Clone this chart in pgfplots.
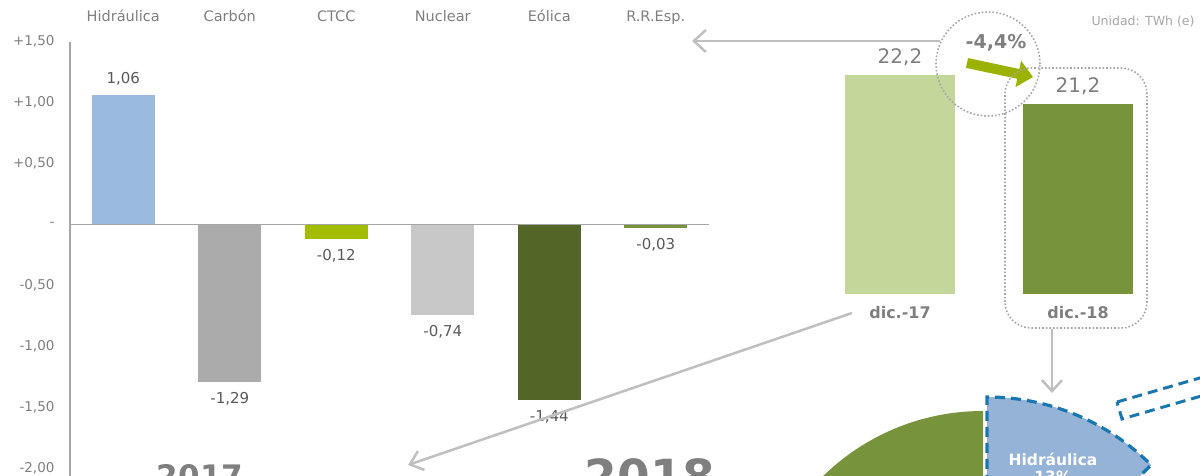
\documentclass[border=0pt]{standalone}
\usepackage{pgfplots}
\pgfplotsset{compat=1.18}
\usepackage{fontspec}
\setmainfont{DejaVu Sans}
\usetikzlibrary{arrows.meta}

\definecolor{txt}{HTML}{7F7F7F}
\definecolor{val}{HTML}{595959}
\definecolor{axgray}{HTML}{A6A6A6}
\definecolor{arrgray}{HTML}{BFBFBF}
\definecolor{hidr}{HTML}{9BBADF}
\definecolor{carbon}{HTML}{ABABAB}
\definecolor{ctcc}{HTML}{A2BD00}
\definecolor{nuclear}{HTML}{C8C8C8}
\definecolor{eolica}{HTML}{536628}
\definecolor{rresp}{HTML}{77933C}
\definecolor{dicA}{HTML}{C4D79B}
\definecolor{dicB}{HTML}{77933C}
\definecolor{garrow}{HTML}{9BB300}
\definecolor{pieblue}{HTML}{95B3D7}
\definecolor{piedash}{HTML}{1A78B0}

\pgfplotsset{
  onebar/.style={fill=#1, draw=none, bar shift=0pt},
}

\begin{document}
\begin{tikzpicture}[x=1pt,y=1pt]
\useasboundingbox (0,0) rectangle (1200,476);
\clip (0,0) rectangle (1200,476);

% variacion por tecnologia
\begin{axis}[
  at={(70pt,0pt)}, anchor=south west, scale only axis,
  width=639pt, height=434.32pt,
  xmin=-0.5, xmax=5.5, ymin=-2.06, ymax=1.5,
  ybar, bar width=63pt, clip=false,
  axis line style={draw=none},
  major tick length=0pt,
  xtick={0,...,5},
  xticklabels={Hidráulica,Carbón,CTCC,Nuclear,Eólica,R.R.Esp.},
  xticklabel pos=upper,
  xticklabel style={anchor=base, yshift=19.7pt, font=\fontsize{14.5}{17}\selectfont, text=txt},
  ytick={-2,-1.5,-1,-0.5,0,0.5,1,1.5},
  yticklabels={{-2,00},{-1,50},{-1,00},{-0,50},{-},{+0,50},{+1,00},{+1,50}},
  yticklabel style={xshift=-12pt, font=\fontsize{13.5}{16}\selectfont, text=txt},
  nodes near coords, nodes near coords align={vertical},
  every node near coord/.append style={
    font=\fontsize{15}{18}\selectfont, text=val, inner ysep=10pt,
    /pgf/number format/.cd, use comma, fixed, fixed zerofill, precision=2, assume math mode=true},
]
\addplot[onebar=hidr] coordinates {(0,1.06)};
\addplot[onebar=carbon] coordinates {(1,-1.29)};
\addplot[onebar=ctcc] coordinates {(2,-0.12)};
\addplot[onebar=nuclear] coordinates {(3,-0.74)};
\addplot[onebar=eolica] coordinates {(4,-1.44)};
\addplot[onebar=rresp] coordinates {(5,-0.03)};
\draw[axgray, line width=1.5pt] (axis cs:-0.5,-2.06) -- (axis cs:-0.5,1.5);
\draw[axgray, line width=1.5pt] (axis cs:-0.5,0) -- (axis cs:5.5,0);
\end{axis}

% produccion mensual
\begin{axis}[
  at={(811pt,182pt)}, anchor=south west, scale only axis,
  width=356pt, height=256.65pt,
  xmin=-0.5, xmax=1.5, ymin=14.65, ymax=23.5,
  ybar, bar width=110pt,
  axis line style={draw=none},
  major tick length=0pt, ytick=\empty,
  xtick={0,1}, xticklabels={dic.-17,dic.-18},
  xticklabel style={anchor=base, yshift=-25pt, font=\bfseries\fontsize{16}{19}\selectfont, text=txt},
  nodes near coords,
  every node near coord/.append style={
    font=\fontsize{20}{24}\selectfont, text=txt, inner ysep=9.5pt,
    /pgf/number format/.cd, use comma, fixed, fixed zerofill, precision=1, assume math mode=true},
]
\addplot[onebar=dicA] coordinates {(0,22.2)};
\addplot[onebar=dicB] coordinates {(1,21.2)};
\end{axis}

% anotaciones
\draw[arrgray, line width=2.5pt, -{Straight Barb[length=12pt,width=22pt]}] (940,435) -- (692,435);
\draw[axgray, line width=1.6pt, dotted] (988,412) circle[radius=52];
\node[font=\bfseries\fontsize{19}{22}\selectfont, text=txt] at (996,433) {-4,4\%};
\draw[garrow, line width=10pt, -{Triangle[length=15pt,width=26pt]}] (967,413) -- (1033,399);
\draw[axgray, line width=1.6pt, dotted, rounded corners=26pt] (1005,148) rectangle (1147,408);
\draw[arrgray, line width=2.5pt, -{Straight Barb[length=11pt,width=20pt]}] (1052,147) -- (1052,83);
\draw[arrgray, line width=2.5pt, -{Straight Barb[length=12pt,width=20pt]}] (852,163) -- (408,11);
\node[anchor=east, font=\fontsize{12.5}{15}\selectfont, text=axgray] at (1198,454) {Unidad: TWh (e)};

\node[anchor=base, font=\bfseries\fontsize{31}{36}\selectfont, text=txt] at (200,-12) {2017};
\node[anchor=base, font=\bfseries\fontsize{47}{54}\selectfont, text=txt] at (650,-18) {2018};

% tarta (parcial)
\fill[rresp] (983,-164) -- ++(90:229) arc[start angle=90, end angle=270, radius=229] -- cycle;
\filldraw[fill=pieblue, draw=piedash, line width=3.2pt, dash pattern=on 10pt off 6pt, line join=miter]
  (987,-153) -- ++(90:232) arc[start angle=90, end angle=45, radius=232] -- cycle;
\node[font=\bfseries\fontsize{15.5}{18}\selectfont, text=white] at (1053,17) {Hidráulica};
\node[anchor=base, font=\bfseries\fontsize{15.5}{18}\selectfont, text=white] at (1053,-7) {13\%};
\draw[piedash, line width=3pt, dash pattern=on 10pt off 6pt] (1117,74) -- (1217,103) -- (1222,86) -- (1122,57) -- cycle;
\end{tikzpicture}
\end{document}
